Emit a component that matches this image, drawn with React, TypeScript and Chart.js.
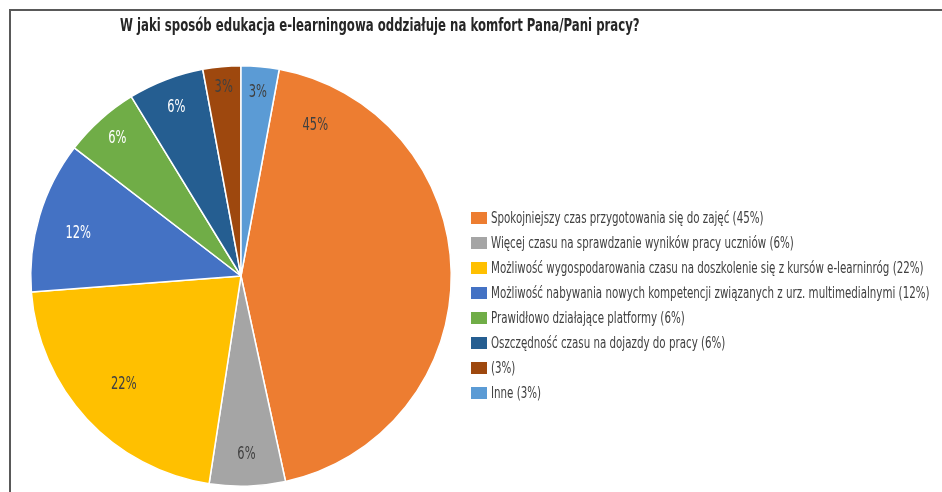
import React, { useEffect, useRef } from "react";
import { Chart, registerables } from "chart.js";

Chart.register(...registerables);

const TITLE = "W jaki sposób edukacja e-learningowa oddziałuje na komfort Pana/Pani pracy?";
const categories = [
  "Spokojniejszy czas przygotowania się do zajęć",
  "Więcej czasu na sprawdzanie wyników pracy uczniów",
  "Możliwość wygospodarowania czasu na doszkolenie się z kursów e-learninróg",
  "Możliwość nabywania nowych kompetencji związanych z urz. multimedialnymi",
  "Prawidłowo działające platformy",
  "Oszczędność czasu na dojazdy do pracy",
  "",
  "Inne",
];
const values = [45, 6, 22, 12, 6, 6, 3, 3];
const percentLabels = ["45%", "6%", "22%", "12%", "6%", "6%", "3%", "3%"];

const COLORS = ["#ED7D31", "#A5A5A5", "#FFC000", "#4472C4", "#70AD47", "#255E91", "#9E480E", "#5B9BD5"];
const LABEL_COLORS = ["#404040", "#404040", "#404040", "#ffffff", "#ffffff", "#ffffff", "#404040", "#404040"];
// label placement: fraction along the slice's angle, fraction of radius
const LABEL_PLACE = [
  [0.1, 0.8], [0.5, 0.85], [0.5, 0.76], [0.45, 0.8], [0.5, 0.88], [0.5, 0.86], [0.5, 0.9], [0.5, 0.875],
];
const FONT = "'DejaVu Sans Condensed', 'Liberation Sans Narrow', sans-serif";

const labelPlugin = {
  id: "sliceLabels",
  afterDatasetsDraw(chart: any) {
    const meta = chart.getDatasetMeta(0);
    const ctx = chart.ctx;
    ctx.save();
    ctx.font = `17px ${FONT}`;
    ctx.textAlign = "center";
    ctx.textBaseline = "middle";
    meta.data.forEach((arc: any, i: number) => {
      const { x, y, startAngle, endAngle, outerRadius } = arc.getProps(
        ["x", "y", "startAngle", "endAngle", "outerRadius"],
        true
      );
      const [t, rf] = LABEL_PLACE[i];
      const a = startAngle + (endAngle - startAngle) * t;
      const r = outerRadius * rf;
      ctx.save();
      ctx.translate(x + Math.cos(a) * r, y + Math.sin(a) * r);
      ctx.scale(0.75, 1);
      ctx.fillStyle = LABEL_COLORS[i];
      ctx.fillText(percentLabels[i], 0, 0);
      ctx.restore();
    });
    ctx.restore();
  },
};

export default function App() {
  const ref = useRef<HTMLCanvasElement | null>(null);
  useEffect(() => {
    if (!ref.current) return;
    const total = values.reduce((s, v) => s + v, 0);
    const chart = new Chart(ref.current, {
      type: "pie",
      data: {
        labels: categories,
        datasets: [
          {
            data: values,
            backgroundColor: COLORS,
            borderColor: "#ffffff",
            borderWidth: 1.5,
          },
        ],
      },
      options: {
        responsive: false,
        animation: false,
        rotation: (values[values.length - 1] / total) * 360,
        layout: { padding: { left: 30, top: 64, right: 490, bottom: 4 } },
        plugins: {
          legend: { display: false },
          title: { display: false },
          tooltip: { enabled: false },
        },
      },
      plugins: [labelPlugin],
    });
    return () => chart.destroy();
  }, []);

  return (
    <div style={{ position: "absolute", left: 0, top: 0, width: 942, height: 492, background: "#fff", overflow: "hidden" }}>
      <div
        style={{
          position: "absolute",
          left: 9,
          top: 9,
          width: 940,
          height: 490,
          borderTop: "2px solid #595959",
          borderLeft: "2px solid #595959",
          boxSizing: "border-box",
        }}
      />
      <canvas ref={ref} width={942} height={492} style={{ position: "absolute", left: 0, top: 0 }} />
      <div
        style={{
          position: "absolute",
          left: 120,
          top: 15,
          font: `bold 17px ${FONT}`,
          color: "#262626",
          whiteSpace: "nowrap",
          transform: "scaleX(0.767)",
          transformOrigin: "left center",
        }}
      >
        {TITLE}
      </div>
      <div style={{ position: "absolute", left: 471, top: 205, font: `16px ${FONT}`, color: "#404040" }}>
        {categories.map((c, i) => (
          <div key={i} style={{ display: "flex", alignItems: "center", height: 25, whiteSpace: "nowrap" }}>
            <span style={{ display: "inline-block", flex: "none", width: 16, height: 12, background: COLORS[i], marginRight: 4 }} />
            <span style={{ display: "inline-block", transform: "scaleX(0.715)", transformOrigin: "left center" }}>
              {(c ? c + " " : "") + "(" + percentLabels[i] + ")"}
            </span>
          </div>
        ))}
      </div>
    </div>
  );
}
